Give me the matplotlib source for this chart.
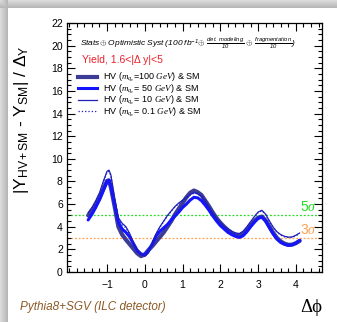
import numpy as np
import matplotlib
matplotlib.use("Agg")
import matplotlib.pyplot as plt
from matplotlib.lines import Line2D
from matplotlib.ticker import MultipleLocator, FixedLocator

plt.rcParams['font.family'] = ['Liberation Sans', 'DejaVu Sans']
plt.rcParams['mathtext.fontset'] = 'custom'
plt.rcParams['mathtext.rm'] = 'Liberation Sans'
plt.rcParams['mathtext.it'] = 'Liberation Serif:italic'
plt.rcParams['mathtext.sf'] = 'Liberation Sans:italic'

# ---------------- data ----------------
dphi = [-1.5, -1.4, -1.3, -1.2, -1.1, -1.0, -0.95, -0.9, -0.8, -0.7, -0.6, -0.5, -0.4, -0.3,
        -0.2, -0.1, 0.0, 0.1, 0.2, 0.3, 0.4, 0.5, 0.6, 0.7, 0.8, 0.9, 1.0, 1.1, 1.2, 1.3,
        1.4, 1.5, 1.6, 1.7, 1.8, 1.9, 2.0, 2.1, 2.2, 2.3, 2.4, 2.5, 2.6, 2.7, 2.8, 2.9,
        3.0, 3.1, 3.2, 3.3, 3.4, 3.5, 3.6, 3.7, 3.8, 3.9, 4.0, 4.1]

sig_m100 = [5.0, 5.4, 5.9, 6.5, 7.3, 8.05, 8.1, 7.5, 5.8, 4.0, 3.3, 2.85, 2.45, 2.05,
            1.65, 1.4, 1.55, 1.95, 2.3, 2.7, 3.1, 3.5, 4.0, 4.5, 5.1, 5.6, 6.1, 6.6, 7.0, 7.2,
            7.05, 6.8, 6.3, 5.8, 5.25, 4.75, 4.35, 4.0, 3.7, 3.45, 3.3, 3.2, 3.35, 3.7, 4.1, 4.5,
            4.8, 4.9, 4.55, 4.0, 3.45, 3.0, 2.7, 2.5, 2.4, 2.42, 2.55, 2.75]

sig_m50 = [4.6, 5.1, 5.7, 6.4, 7.2, 8.0, 8.1, 7.6, 6.0, 4.4, 3.8, 3.5, 3.1, 2.5,
           1.9, 1.6, 1.5, 1.9, 2.5, 3.2, 3.6, 3.9, 4.2, 4.6, 4.95, 5.3, 5.7, 6.0, 6.35, 6.6,
           6.55, 6.3, 5.9, 5.45, 4.95, 4.5, 4.1, 3.8, 3.5, 3.3, 3.15, 3.05, 3.2, 3.55, 4.0, 4.4,
           4.75, 4.85, 4.5, 3.9, 3.35, 2.9, 2.6, 2.45, 2.35, 2.4, 2.55, 2.8]

sig_m10 = [5.25, 5.7, 6.3, 7.0, 8.0, 8.9, 9.0, 8.6, 6.6, 4.8, 4.3, 4.0, 3.4, 2.6,
           2.0, 1.6, 1.4, 1.7, 2.6, 3.4, 4.0, 4.5, 5.0, 5.4, 5.8, 6.1, 6.35, 6.6, 6.85, 7.0,
           6.95, 6.7, 6.25, 5.75, 5.2, 4.75, 4.35, 4.05, 3.8, 3.6, 3.45, 3.4, 3.6, 4.0, 4.45, 4.9,
           5.3, 5.45, 5.1, 4.5, 3.95, 3.55, 3.3, 3.15, 3.08, 3.1, 3.25, 3.45]

sig_m01 = [5.2, 5.65, 6.25, 6.95, 7.9, 8.8, 8.9, 8.5, 6.5, 4.7, 4.2, 3.9, 3.3, 2.55,
           1.95, 1.6, 1.45, 1.75, 2.6, 3.35, 3.95, 4.45, 4.95, 5.35, 5.75, 6.05, 6.3, 6.55, 6.8, 6.95,
           6.9, 6.65, 6.2, 5.7, 5.15, 4.7, 4.3, 4.0, 3.75, 3.55, 3.4, 3.35, 3.55, 3.95, 4.4, 4.85,
           5.25, 5.4, 5.05, 4.45, 3.9, 3.5, 3.25, 3.1, 3.05, 3.05, 3.2, 3.4]

labels = [r'HV $\mathit{(m_{q_v}\!=\!100\ GeV)}$ & SM',
          r'HV $\mathit{(m_{q_v}\!=\ 50\ GeV)}$ & SM',
          r'HV $\mathit{(m_{q_v}\!=\ 10\ GeV)}$ & SM',
          r'HV $\mathit{(m_{q_v}\!=\ 0.1\ GeV)}$ & SM']
series = [sig_m100, sig_m50, sig_m10, sig_m01]
colors = ['#3c3c96', '#1414ff', '#2020b4', '#1a1ad0']
widths = [3.0, 2.2, 0.9, 0.9]
styles = ['-', '-', '-', ':']

thresholds = [5, 3]
thr_labels = [r'5$\mathit{\sigma}$', r'3$\mathit{\sigma}$']
thr_colors = ['#22dd22', '#ffa050']

# ---------------- figure ----------------
fig = plt.figure(figsize=(3.37, 3.22), dpi=100)

# shadow frame background
bg = fig.add_axes([0, 0, 1, 1], zorder=-10)
H, W = 322, 337
img = np.ones((H, W))
cols = np.arange(W)
rows = np.arange(H)
left = np.where(cols < 8, 0.86 - 0.02 * cols, 1.0)
top = np.where(rows < 8, 0.86 - 0.02 * rows, 1.0)
img = np.minimum(img, left[None, :])
img = np.minimum(img, top[:, None])
bg.imshow(np.dstack([img, img, img]), aspect='auto', extent=[0, 1, 0, 1])
bg.set_axis_off()

ax = fig.add_axes([67 / 337, 50 / 322, 255 / 337, 249 / 322])
ax.set_xlim(-2.06, 4.69)
ax.set_ylim(0, 22)

for thr, c in zip(thresholds, thr_colors):
    ax.axhline(thr, color=c, lw=0.9, ls=(0, (1.5, 1.5)), zorder=1)

for i in range(4):
    ax.plot(dphi, series[i], color=colors[i], lw=widths[i], ls=styles[i], zorder=3 + i,
            solid_capstyle='round')

for thr, lab, c in zip(thresholds, thr_labels, thr_colors):
    ax.text(4.57, thr + 0.1, lab, color=c, fontsize=10, ha='right', va='bottom')

# ticks
ax.xaxis.set_major_locator(FixedLocator([-1, 0, 1, 2, 3, 4]))
ax.xaxis.set_minor_locator(MultipleLocator(0.2))
ax.yaxis.set_major_locator(MultipleLocator(2))
ax.yaxis.set_minor_locator(MultipleLocator(0.5))
ax.tick_params(which='both', direction='in', top=True, right=True, width=0.8, labelsize=7.5)
ax.tick_params(which='major', length=6)
ax.tick_params(which='minor', length=3)
ax.tick_params(axis='x', pad=6)
ax.tick_params(axis='y', pad=3)
for s in ax.spines.values():
    s.set_linewidth(0.9)

ax.set_ylabel(r'|Y$_{\rm HV+SM}$ - Y$_{\rm SM}$| / Δ$_{\rm Y}$', fontsize=12.5, loc='top')
ax.yaxis.set_label_coords(-0.14, 0.91)

# header texts
ax.text(0.05, 0.917,
        r'$\mathsf{Stats}$$\oplus$ $\mathsf{Optimistic\ Syst\ (100\ fb^{-1}}$$\oplus$ '
        r'$\mathsf{\frac{det.\ modeling}{10}}$ $\oplus$ $\mathsf{\frac{fragmentation}{10}}$$\mathsf{)}$',
        transform=ax.transAxes, fontsize=6, ha='left', va='center')
ax.text(0.058, 0.852, 'Yield, 1.6<|Δ y|<5', color='#e8202a', fontsize=7.5,
        transform=ax.transAxes, ha='left', va='center')

# legend
leg_y = [0.783, 0.737, 0.691, 0.645]
for i in range(4):
    ax.add_line(Line2D([0.043, 0.118], [leg_y[i], leg_y[i]], transform=ax.transAxes,
                       color=colors[i], lw=widths[i], ls=styles[i]))
    ax.text(0.14, leg_y[i], labels[i], transform=ax.transAxes, fontsize=6.5,
            ha='left', va='center')

fig.text(20 / 337, 1 - 307 / 322, 'Pythia8+SGV (ILC detector)', color='#8b5a26',
         fontsize=8.5, style='italic', ha='left', va='center')
fig.text(322 / 337, 1 - 308 / 322, 'Δϕ', family=['Liberation Serif', 'DejaVu Serif'],
         fontsize=13.5, ha='right', va='center')

fig.savefig('out.png', dpi=100)
